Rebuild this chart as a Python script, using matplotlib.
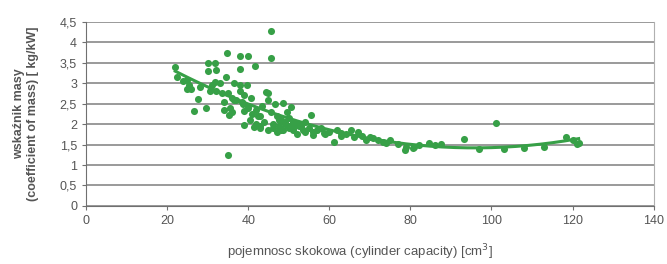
import numpy as np
import matplotlib.pyplot as plt
from matplotlib.ticker import FuncFormatter

plt.rcParams['font.family'] = ['Liberation Sans', 'DejaVu Sans']

# pojemnosc skokowa [cm3] i wskaznik masy [kg/kW]
capacity = [22, 22.5, 24, 25, 25, 25.5, 26, 26.7, 27.7, 28, 29.5, 30, 30, 30.5,
            31, 31.7, 31.9, 32, 32, 33, 33.5, 34, 34, 34.4, 34.7, 35, 35, 35.3,
            35.5, 36, 36, 36.4, 36.5, 37, 37.9, 38, 38, 38, 38.5, 38.8, 38.9,
            38.9, 39, 39.8, 39.9, 40, 40, 40.5, 40.6, 41, 41.4, 41.6, 42, 42,
            42.5, 43, 43, 43, 43.5, 44, 44.3, 44.8, 44.8, 45, 45.5, 45.5, 45.5,
            46, 46.5, 47, 47, 47.5, 47.5, 48, 48.5, 48.5, 49, 49.5, 50, 50,
            50.5, 51, 51, 52, 52, 53, 53.5, 54, 55, 55.4, 55.9, 57, 58, 58.7,
            60, 61.2, 62, 62.8, 64, 65.3, 67, 68, 70, 70.8, 72, 73.3, 75, 77,
            78.7, 80.7, 82, 84.7, 87.6, 93.3, 101, 118.3, 120, 121.5,
            46, 48, 49, 50, 51, 52.5, 54, 56, 59, 63, 66, 69, 74, 79, 81,
            86, 97, 103, 108, 113, 121]
mass_coef = [3.40, 3.15, 3.05, 3.08, 2.86, 2.95, 2.85, 2.33, 2.61, 2.90, 2.40,
             3.49, 3.31, 2.80, 2.95, 3.50, 3.04, 3.33, 2.80, 3.00, 2.75, 2.55,
             2.35, 3.16, 3.74, 1.25, 2.75, 2.23, 2.40, 2.65, 2.30, 3.00, 2.60,
             2.60, 3.67, 3.35, 2.95, 2.80, 2.55, 2.50, 2.71, 2.31, 1.98, 2.96,
             3.67, 2.40, 2.45, 2.10, 2.63, 2.25, 1.94, 3.43, 2.35, 2.00, 2.20,
             1.90, 2.20, 1.95, 2.45, 2.05, 2.79, 2.76, 2.59, 1.85, 4.28, 3.62,
             2.30, 2.00, 2.50, 1.80, 2.20, 1.95, 2.10, 2.10, 2.51, 1.85, 2.00,
             2.30, 1.90, 2.15, 2.43, 1.85, 2.05, 2.00, 1.75, 1.95, 1.85, 2.05,
             1.90, 2.22, 1.74, 1.85, 1.90, 1.78, 1.80, 1.57, 1.85, 1.78, 1.75,
             1.86, 1.81, 1.72, 1.68, 1.66, 1.62, 1.57, 1.60, 1.52, 1.37, 1.42,
             1.50, 1.54, 1.52, 1.64, 2.03, 1.69, 1.60, 1.54,
             1.90, 1.85, 2.05, 1.95, 1.90, 1.95, 1.80, 1.80, 1.75, 1.70, 1.68,
             1.62, 1.55, 1.45, 1.45, 1.48, 1.40, 1.40, 1.41, 1.44, 1.52]

green = '#37a047'

fig, ax = plt.subplots(figsize=(6.67, 2.64), dpi=100)
plt.subplots_adjust(left=0.129, right=0.98, bottom=0.22, top=0.917)

ax.scatter(capacity, mass_coef, s=26, color=green, zorder=3, linewidths=0)

# linia trendu (wielomian 2 stopnia, jak w Excelu)
coef = np.polyfit(capacity, mass_coef, 2)
xt = np.linspace(min(capacity), max(capacity), 200)
ax.plot(xt, np.polyval(coef, xt), color=green, lw=2.2, zorder=4)

ax.set_xlim(0, 140)
ax.set_ylim(0, 4.5)
ax.set_xticks(np.arange(0, 141, 20))
ax.set_yticks(np.arange(0, 4.51, 0.5))
ax.yaxis.set_major_formatter(FuncFormatter(lambda v, p: ('%g' % v).replace('.', ',')))
ax.yaxis.grid(True, color='#9a9a9a', lw=1.4)
ax.set_axisbelow(True)

ax.spines['top'].set_visible(False)
ax.spines['left'].set_color('#707070')
ax.spines['bottom'].set_color('#707070')
ax.spines['right'].set_color('#b0b0b0')
ax.tick_params(colors='#707070', labelcolor='#555555', labelsize=9, length=3)

ax.set_xlabel('pojemnosc skokowa (cylinder capacity) [cm$^3$]', fontsize=9.5,
              color='#555555')
ax.xaxis.set_label_coords(0.482, -0.2)
ax.set_ylabel('wskaźnik masy\n(coefficient of mass) [ kg/kW]', fontsize=9,
              color='#555555', fontweight='bold', labelpad=15)

fig.savefig('out.png', dpi=100)
